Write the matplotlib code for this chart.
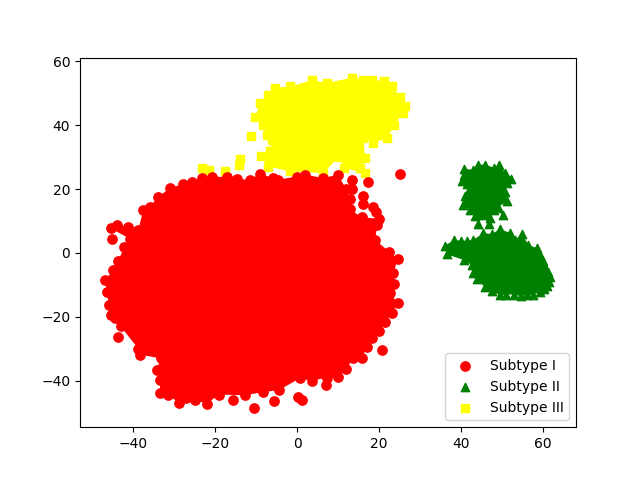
import matplotlib
matplotlib.use("Agg")
import matplotlib.pyplot as plt

# values
# the clouds are thousands of overlapping points, only the edge points can be
# read, so the solid middle of each cloud is filled inside its edge points
red_edge_x = [-45.4, -43.8, -41.3, -38.7, -37.5, -35.9, -33.8, -31, -27.7, -25.7, -23.2, -20.8, -17.1, -14.6, -11.5, -9, -5.8, -4.6, -0.1, 2, 6.4, 9.9, 12, 12.8, 12.8, 15.8, 20, 19.6, 19, 22.5, 24.5, 23.5, 23.7, 22.7, 24.5, 23.1, 21.5, 20, 18.2, 17, 15.9, 13.7, 11.9, 10.1, 7.2, 3.6, 0.7, -4.4, -8.2, -12.7, -19, -22, -24.9, -28.8, -31.4, -33.4, -33.4, -34.2, -33.2, -38.2, -38.7, -43, -44.4, -45.4, -45.8, -46.4, -46.7, -44.8, -43.6, -42.1, -40.7]
red_edge_y = [7.7, 8.8, 8.2, 7.2, 13.3, 14.5, 17.5, 20.3, 21.6, 22.3, 23.4, 23.7, 23.9, 23.1, 22.9, 24.8, 23.4, 22.9, 23.9, 24.5, 23.4, 24.5, 20, 16.8, 13.6, 11.2, 10.6, 8.8, 4.1, 0.4, -2, -6.4, -9.7, -12.5, -15.8, -18.9, -21.5, -24.5, -26.7, -29.4, -32.7, -33, -36.4, -38.8, -39, -40, -39.2, -42.9, -43.5, -44.5, -44.3, -47.1, -46.1, -46.8, -44.5, -43.7, -39.8, -36.5, -33, -31.8, -29.9, -23, -20.5, -19.4, -16.3, -12.3, -8.5, -5.3, -2.5, 1.8, 4.4]
red_stray_x = [-45, 25.1, 17.4, 13.5, 13.5, 16.2, 16.2, 18.4, 19.3, 20.7, 1.1, 0.3, 7, -5.5, -10.5, -15.5, -43.6, -27]
red_stray_y = [4.4, 24.8, 22.2, 22.9, 20, 17.9, 15.3, 14.5, 12.9, -30.2, -46.1, -45, -41.4, -46.4, -48.4, -46.1, -26.2, -45.5]

green_top_x = [40.7, 43, 44.2, 45.9, 47.9, 49.3, 50.7, 52.2, 51.3, 50.7, 51.3, 49.1, 50.2, 47.9, 47.1, 46.9, 44.6, 44.2, 43.4, 42.2, 40.4, 41, 41.8, 41.4, 40.3, 40.6]
green_top_y = [26.3, 26, 27.6, 27.6, 26.7, 27.6, 25, 23.2, 21.8, 19.2, 16.1, 14.5, 11.9, 13.5, 10.9, 9.1, 11.9, 9.1, 11.7, 13.5, 15, 17.7, 19.7, 21.5, 22.6, 24.5]
green_low_x = [49.5, 47.5, 45.4, 43, 41.4, 39.9, 38.3, 36.1, 36.5, 40.6, 42.6, 43, 43.8, 45.9, 47.5, 49.5, 51, 52.8, 54.5, 56, 57.5, 59.3, 60.2, 60.9, 61.5, 61.7, 61.2, 60.5, 60, 59.3, 58.5, 56.4, 54.8, 53.2, 52]
green_low_y = [7.5, 5.9, 6.2, 4.1, 3.8, 3.8, 4.1, 2.3, -0.4, -2.2, -3.8, -6.4, -8.2, -10.8, -12, -13.2, -13, -13, -13.5, -13.2, -13, -12.3, -11.4, -10.2, -9, -7.4, -6, -4.3, -2.5, -0.6, 1.5, 2.5, 6, 4.1, 6.2]

yellow_edge_x = [-5.4, -1.7, 3.7, 7.4, 13.3, 16.2, 18.2, 21.1, 23.1, 25.1, 26.3, 25.9, 23.7, 22, 18.6, 16.2, 16.6, 15.4, 16.6, 11.5, 10.2, 6.4, -1.7, -7, -8.9, -6.6, -6, -7.2, -8.2, -10.2, -9, -7]
yellow_edge_y = [51.6, 52.1, 54, 53.2, 54.8, 54.2, 54.2, 53.7, 52.1, 48.8, 45.9, 43.8, 40.1, 35.9, 34.4, 35.9, 29.7, 26.5, 25, 26.5, 30, 25, 25.5, 27, 30.2, 31.8, 35.4, 37, 40.1, 42.5, 46.9, 49.5]
yellow_stray_x = [-11.3, -13.9, -14.2, -23.2, -21.5, -17.6]
yellow_stray_y = [36.6, 29.4, 27.6, 26.5, 25.8, 25.5]

labels = ["Subtype I", "Subtype II", "Subtype III"]

fig, ax = plt.subplots(figsize=(6.4, 4.8), dpi=100)

ax.fill(yellow_edge_x, yellow_edge_y, color="yellow", lw=0, zorder=1)
ax.scatter(yellow_edge_x + yellow_stray_x, yellow_edge_y + yellow_stray_y, s=36, c="yellow", marker="s", label=labels[2], zorder=1)

ax.fill(green_top_x, green_top_y, color="green", lw=0, zorder=2)
ax.fill(green_low_x, green_low_y, color="green", lw=0, zorder=2)
ax.scatter(green_top_x + green_low_x, green_top_y + green_low_y, s=36, c="green", marker="^", label=labels[1], zorder=2)

ax.fill(red_edge_x, red_edge_y, color="red", lw=0, zorder=3)
ax.scatter(red_edge_x + red_stray_x, red_edge_y + red_stray_y, s=45, c="red", marker="o", label=labels[0], zorder=3)

ax.set_xlim(-52.9, 68)
ax.set_ylim(-54.5, 61.1)

handles, names = ax.get_legend_handles_labels()
order = [names.index(n) for n in labels]
ax.legend([handles[i] for i in order], [names[i] for i in order], loc="lower right")

fig.savefig("out.png", dpi=100)
